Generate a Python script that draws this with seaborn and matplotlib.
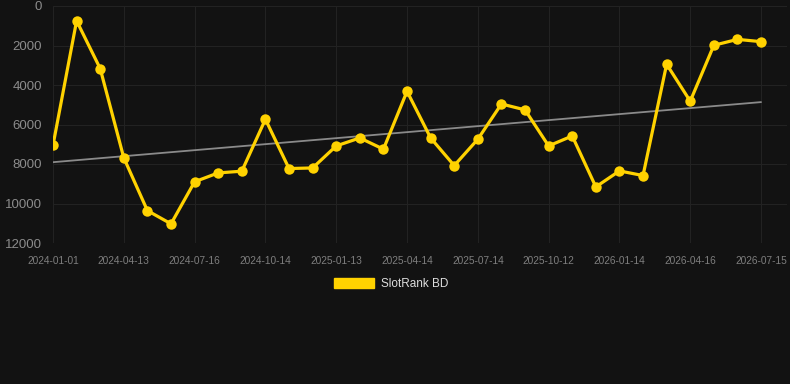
import numpy as np
import pandas as pd
import matplotlib
matplotlib.use("Agg")
import matplotlib.pyplot as plt
from matplotlib.patches import Patch
import seaborn as sns

# one point per month, ticks every 3rd point
dates = ["2024-01-01", "2024-02-04", "2024-03-09", "2024-04-13", "2024-05-14",
         "2024-06-15", "2024-07-16", "2024-08-15", "2024-09-14", "2024-10-14",
         "2024-11-13", "2024-12-14", "2025-01-13", "2025-02-12", "2025-03-15",
         "2025-04-14", "2025-05-14", "2025-06-13", "2025-07-14", "2025-08-13",
         "2025-09-12", "2025-10-12", "2025-11-12", "2025-12-14", "2026-01-14",
         "2026-02-14", "2026-03-16", "2026-04-16", "2026-05-16", "2026-06-15",
         "2026-07-15"]
rank = [7050, 750, 3170, 7690, 10360, 11030, 8900, 8450, 8365, 5735,
        8230, 8200, 7085, 6680, 7250, 4320, 6680, 8080, 6745, 4960,
        5260, 7085, 6580, 9160, 8350, 8585, 2950, 4820, 1990, 1690,
        1805]
series_name = "SlotRank BD"

bg = "#121212"
gold = "#FFD200"

df = pd.DataFrame({"date": dates, "rank": rank})
df["pos"] = np.arange(len(df))

# linear trend over the series
k, b = np.polyfit(df["pos"], df["rank"], 1)
df["trend"] = k * df["pos"] + b

sns.set_style("dark")
plt.rcParams["font.family"] = ["Liberation Sans", "DejaVu Sans"]
fig = plt.figure(figsize=(7.9, 3.84), dpi=100, facecolor=bg)
ax = fig.add_axes([53 / 790, 1 - 243 / 384, (787 - 53) / 790, (243 - 6) / 384])
ax.set_facecolor(bg)

sns.lineplot(data=df, x="pos", y="trend", ax=ax, color="#8a8a8a", linewidth=1.3)
sns.lineplot(data=df, x="pos", y="rank", ax=ax, color=gold, linewidth=2.3,
             marker="o", markersize=7.5, markeredgewidth=0)

ax.set_xlim(0, 31.1)
ax.set_ylim(12000, 0)
ax.set_yticks(range(0, 12001, 2000))
ax.set_yticklabels([str(v) for v in range(0, 12001, 2000)])
tick_pos = df["pos"][::3]
ax.set_xticks(tick_pos)
ax.set_xticklabels(df["date"][::3])
ax.tick_params(axis="y", colors="#8c8c8c", labelsize=9.5, length=0, pad=8)
ax.tick_params(axis="x", colors="#7e7e7e", labelsize=7.3, length=0, pad=9)
ax.grid(True, color="#222222", linewidth=0.8)
ax.set_xlabel("")
ax.set_ylabel("")
for s in ax.spines.values():
    s.set_visible(False)

handles = [Patch(facecolor=gold, edgecolor=gold, label=series_name)]
fig.legend(handles=handles, loc="center", bbox_to_anchor=(391 / 790, 1 - 284 / 384),
           frameon=False, fontsize=8.5, labelcolor="#dddddd",
           handlelength=3.4, handleheight=1.0, handletextpad=0.6)

fig.savefig("out.png", dpi=100, facecolor=bg)
